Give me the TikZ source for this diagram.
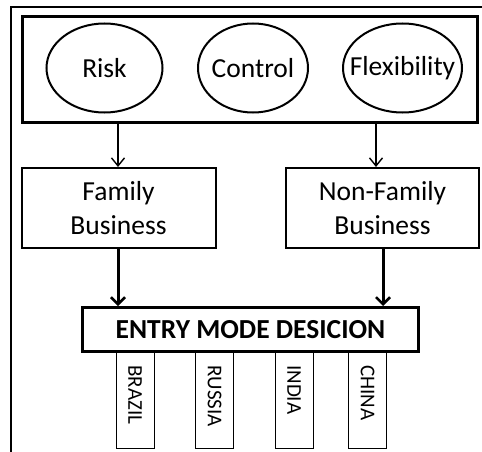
\documentclass[tikz,border=0pt]{standalone}
\usepackage{fontspec}
\setmainfont{Carlito}
\usetikzlibrary{shapes.geometric,arrows.meta}
\begin{document}
\begin{tikzpicture}[x=1pt,y=-1pt,
  oval/.style={draw,ellipse,line width=2pt,inner sep=0pt,minimum width=116pt,minimum height=89pt,font=\fontsize{27.5}{33}\selectfont},
  biz/.style={draw,line width=2pt,inner sep=0pt,align=center,font=\fontsize{27.5}{34}\selectfont},
  country/.style={draw,line width=0.8pt,inner sep=0pt},
  thin/.style={line width=1.4pt,-{Straight Barb[length=8pt,width=13pt,line width=1.4pt]}},
  thick/.style={line width=3pt,-{Straight Barb[length=7pt,width=14pt,line width=2.5pt]}}]
\useasboundingbox (0,0) rectangle (482,452);
% outer frame (partly cut)
\draw[line width=2pt] (11,452) -- (11,7) -- (483,7);
% top box
\node[draw,line width=3pt,inner sep=0pt,minimum width=455pt,minimum height=106pt] (top) at (249.5,69.5) {};
\node[oval] (risk) at (104.5,68) {\makebox[0pt]{Risk}};
\node[oval,minimum width=110pt] (ctrl) at (253,68) {\makebox[0pt]{Control}};
\node[oval,minimum width=119pt] (flex) at (402.5,68) {\makebox[0pt]{Flexibility}};
% business boxes
\node[biz,minimum width=194pt,minimum height=80pt] (fam) at (118.5,208) {Family\\Business};
\node[biz,minimum width=193pt,minimum height=80pt] (nf) at (382.5,208) {Non-Family\\Business};
% entry mode
\node[draw,line width=3pt,inner sep=0pt,minimum width=336pt,minimum height=44pt,font=\fontsize{27.5}{33}\selectfont\bfseries] (entry) at (250.5,329.5) {ENTRY MODE DESICION};
% countries
\foreach \n/\x/\t in {br/135/BRAZIL,ru/214.5/RUSSIA,in/294/INDIA,ch/367.5/CHINA}{
  \node[country,minimum width=38pt,minimum height=96pt,anchor=north] (\n) at (\x,352) {};
  \node[rotate=-90,anchor=west,inner sep=0pt,font=\fontsize{21}{24}\selectfont] (\n t) at ([yshift=-13pt]\n.north) {\t};
}
\node[draw,line width=3pt,inner sep=0pt,minimum width=336pt,minimum height=44pt] at (entry) {};
% arrows
\draw[thin] (118,0 |- top.south) -- (118,0 |- fam.north);
\draw[thin] (376,0 |- top.south) -- (376,0 |- nf.north);
\draw[thick] (118,0 |- fam.south) -- (118,0 |- entry.north);
\draw[thick] (383,0 |- nf.south) -- (383,0 |- entry.north);
\end{tikzpicture}
\end{document}
